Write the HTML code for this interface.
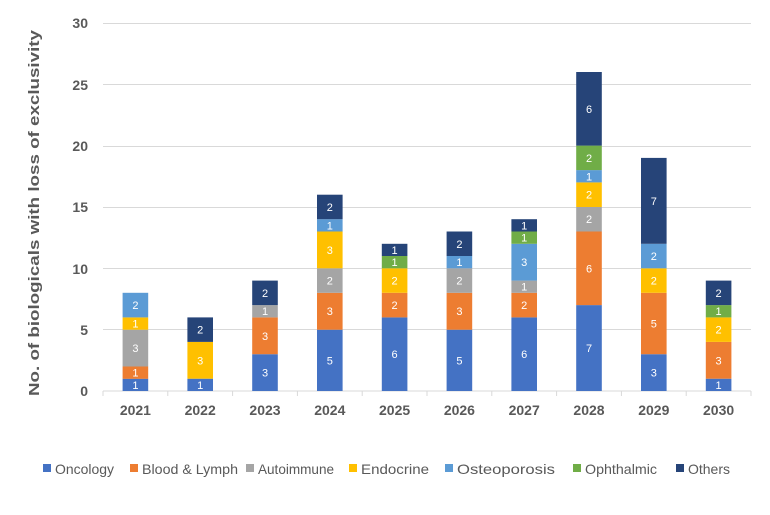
<!DOCTYPE html>
<html><head><style>body{margin:0;background:#fff}svg{display:block}</style></head><body>
<svg width="770" height="515" xmlns="http://www.w3.org/2000/svg" font-family="Liberation Sans, sans-serif">
<rect width="770" height="515" fill="#fff"/>
<g stroke="#d9d9d9" stroke-width="1">
<line x1="103" x2="751" y1="23.5" y2="23.5"/><line x1="103" x2="751" y1="84.5" y2="84.5"/>
<line x1="103" x2="751" y1="146.5" y2="146.5"/><line x1="103" x2="751" y1="207.5" y2="207.5"/>
<line x1="103" x2="751" y1="268.5" y2="268.5"/><line x1="103" x2="751" y1="329.5" y2="329.5"/>
<line x1="103" x2="751" y1="391" y2="391"/>
<line x1="103" x2="103" y1="391" y2="396"/><line x1="167.8" x2="167.8" y1="391" y2="396"/>
<line x1="232.6" x2="232.6" y1="391" y2="396"/><line x1="297.4" x2="297.4" y1="391" y2="396"/>
<line x1="362.2" x2="362.2" y1="391" y2="396"/><line x1="427" x2="427" y1="391" y2="396"/>
<line x1="491.8" x2="491.8" y1="391" y2="396"/><line x1="556.6" x2="556.6" y1="391" y2="396"/>
<line x1="621.4" x2="621.4" y1="391" y2="396"/><line x1="686.2" x2="686.2" y1="391" y2="396"/>
<line x1="751" x2="751" y1="391" y2="396"/>
</g>
<g font-size="14" font-weight="bold" fill="#595959" text-anchor="end">
<text x="88" y="396">0</text><text x="88" y="335">5</text><text x="88" y="274">10</text>
<text x="88" y="212">15</text><text x="88" y="151">20</text><text x="88" y="90">25</text><text x="88" y="28">30</text>
</g>
<text transform="translate(39,213) rotate(-90)" text-anchor="middle" font-size="15" font-weight="bold" fill="#595959" textLength="366" lengthAdjust="spacingAndGlyphs">No. of biologicals with loss of exclusivity</text>

<g fill="#4472c4">
<rect x="122.6" y="378.7" width="25.6" height="12.3"/>
<rect x="187.4" y="378.7" width="25.6" height="12.3"/>
<rect x="252.2" y="354.2" width="25.6" height="36.8"/>
<rect x="317" y="329.7" width="25.6" height="61.3"/>
<rect x="381.8" y="317.4" width="25.6" height="73.6"/>
<rect x="446.6" y="329.7" width="25.6" height="61.3"/>
<rect x="511.4" y="317.4" width="25.6" height="73.6"/>
<rect x="576.2" y="305.1" width="25.6" height="85.9"/>
<rect x="641" y="354.2" width="25.6" height="36.8"/>
<rect x="705.8" y="378.7" width="25.6" height="12.3"/>
</g>
<g fill="#ed7d31">
<rect x="122.6" y="366.5" width="25.6" height="12.3"/>
<rect x="252.2" y="317.4" width="25.6" height="36.8"/>
<rect x="317" y="292.8" width="25.6" height="36.9"/>
<rect x="381.8" y="292.8" width="25.6" height="24.6"/>
<rect x="446.6" y="292.8" width="25.6" height="36.9"/>
<rect x="511.4" y="292.8" width="25.6" height="24.6"/>
<rect x="576.2" y="231.5" width="25.6" height="73.6"/>
<rect x="641" y="292.8" width="25.6" height="61.4"/>
<rect x="705.8" y="341.9" width="25.6" height="36.8"/>
</g>
<g fill="#a5a5a5">
<rect x="122.6" y="329.7" width="25.6" height="36.8"/>
<rect x="252.2" y="305.1" width="25.6" height="12.3"/>
<rect x="317" y="268.3" width="25.6" height="24.5"/>
<rect x="446.6" y="268.3" width="25.6" height="24.5"/>
<rect x="511.4" y="280.6" width="25.6" height="12.2"/>
<rect x="576.2" y="207" width="25.6" height="24.5"/>
</g>
<g fill="#ffc000">
<rect x="122.6" y="317.4" width="25.6" height="12.3"/>
<rect x="187.4" y="341.9" width="25.6" height="36.8"/>
<rect x="317" y="231.5" width="25.6" height="36.8"/>
<rect x="381.8" y="268.3" width="25.6" height="24.5"/>
<rect x="576.2" y="182.4" width="25.6" height="24.6"/>
<rect x="641" y="268.3" width="25.6" height="24.5"/>
<rect x="705.8" y="317.4" width="25.6" height="24.5"/>
</g>
<g fill="#5b9bd5">
<rect x="122.6" y="292.8" width="25.6" height="24.6"/>
<rect x="317" y="219.2" width="25.6" height="12.3"/>
<rect x="446.6" y="256" width="25.6" height="12.3"/>
<rect x="511.4" y="243.8" width="25.6" height="36.8"/>
<rect x="576.2" y="170.1" width="25.6" height="12.3"/>
<rect x="641" y="243.8" width="25.6" height="24.5"/>
</g>
<g fill="#70ad47">
<rect x="381.8" y="256" width="25.6" height="12.3"/>
<rect x="511.4" y="231.5" width="25.6" height="12.3"/>
<rect x="576.2" y="145.6" width="25.6" height="24.5"/>
<rect x="705.8" y="305.1" width="25.6" height="12.3"/>
</g>
<g fill="#264478">
<rect x="187.4" y="317.4" width="25.6" height="24.5"/>
<rect x="252.2" y="280.6" width="25.6" height="24.5"/>
<rect x="317" y="194.7" width="25.6" height="24.5"/>
<rect x="381.8" y="243.8" width="25.6" height="12.2"/>
<rect x="446.6" y="231.5" width="25.6" height="24.5"/>
<rect x="511.4" y="219.2" width="25.6" height="12.3"/>
<rect x="576.2" y="72" width="25.6" height="73.6"/>
<rect x="641" y="157.9" width="25.6" height="85.9"/>
<rect x="705.8" y="280.6" width="25.6" height="24.5"/>
</g>

<g font-size="11" fill="#fff" text-anchor="middle">
<text x="135.4" y="388.9">1</text><text x="135.4" y="376.6">1</text><text x="135.4" y="352.1">3</text><text x="135.4" y="327.5">1</text><text x="135.4" y="309.1">2</text>
<text x="200.2" y="388.9">1</text><text x="200.2" y="364.3">3</text><text x="200.2" y="333.7">2</text>
<text x="265" y="376.6">3</text><text x="265" y="339.8">3</text><text x="265" y="315.2">1</text><text x="265" y="296.8">2</text>
<text x="329.8" y="364.3">5</text><text x="329.8" y="315.2">3</text><text x="329.8" y="284.6">2</text><text x="329.8" y="253.9">3</text><text x="329.8" y="229.4">1</text><text x="329.8" y="211">2</text>
<text x="394.6" y="358.2">6</text><text x="394.6" y="309.1">2</text><text x="394.6" y="284.6">2</text><text x="394.6" y="266.2">1</text><text x="394.6" y="253.9">1</text>
<text x="459.4" y="364.3">5</text><text x="459.4" y="315.2">3</text><text x="459.4" y="284.6">2</text><text x="459.4" y="266.2">1</text><text x="459.4" y="247.8">2</text>
<text x="524.2" y="358.2">6</text><text x="524.2" y="309.1">2</text><text x="524.2" y="290.7">1</text><text x="524.2" y="266.2">3</text><text x="524.2" y="241.6">1</text><text x="524.2" y="229.4">1</text>
<text x="589" y="352.1">7</text><text x="589" y="272.3">6</text><text x="589" y="223.2">2</text><text x="589" y="198.7">2</text><text x="589" y="180.3">1</text><text x="589" y="161.9">2</text><text x="589" y="112.8">6</text>
<text x="653.8" y="376.6">3</text><text x="653.8" y="327.5">5</text><text x="653.8" y="284.6">2</text><text x="653.8" y="260">2</text><text x="653.8" y="204.8">7</text>
<text x="718.6" y="388.9">1</text><text x="718.6" y="364.3">3</text><text x="718.6" y="333.7">2</text><text x="718.6" y="315.2">1</text><text x="718.6" y="296.8">2</text>
</g>

<g font-size="14" font-weight="bold" fill="#595959" text-anchor="middle">
<text x="135.4" y="415">2021</text><text x="200.2" y="415">2022</text><text x="265" y="415">2023</text>
<text x="329.8" y="415">2024</text><text x="394.6" y="415">2025</text><text x="459.4" y="415">2026</text>
<text x="524.2" y="415">2027</text><text x="589" y="415">2028</text><text x="653.8" y="415">2029</text><text x="718.6" y="415">2030</text>
</g>

<g font-size="14" fill="#595959">
<rect x="43" y="464" width="8" height="8" fill="#4472c4"/><text x="55" y="474" textLength="59" lengthAdjust="spacingAndGlyphs">Oncology</text>
<rect x="130" y="464" width="8" height="8" fill="#ed7d31"/><text x="142" y="474" textLength="96" lengthAdjust="spacingAndGlyphs">Blood &amp; Lymph</text>
<rect x="246" y="464" width="8" height="8" fill="#a5a5a5"/><text x="258" y="474" textLength="76" lengthAdjust="spacingAndGlyphs">Autoimmune</text>
<rect x="349" y="464" width="8" height="8" fill="#ffc000"/><text x="361" y="474" textLength="68" lengthAdjust="spacingAndGlyphs">Endocrine</text>
<rect x="445" y="464" width="8" height="8" fill="#5b9bd5"/><text x="457" y="474" textLength="98" lengthAdjust="spacingAndGlyphs">Osteoporosis</text>
<rect x="573" y="464" width="8" height="8" fill="#70ad47"/><text x="585" y="474" textLength="72" lengthAdjust="spacingAndGlyphs">Ophthalmic</text>
<rect x="676" y="464" width="8" height="8" fill="#264478"/><text x="688" y="474" textLength="42" lengthAdjust="spacingAndGlyphs">Others</text>
</g>
</svg>
</body></html>
